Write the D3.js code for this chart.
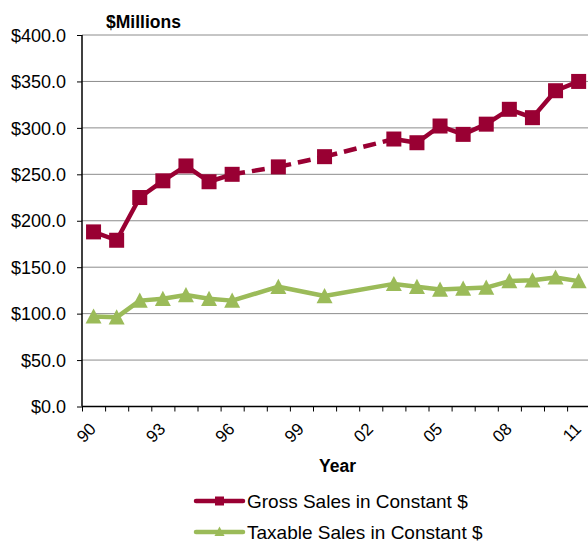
<!DOCTYPE html>
<html>
<head>
<meta charset="utf-8">
<script src="https://cdn.jsdelivr.net/npm/d3@7/dist/d3.min.js"></script>
<style>
  html, body { margin: 0; padding: 0; background: #fff; }
  svg { display: block; font-family: "Liberation Sans", Arial, sans-serif; }
</style>
</head>
<body>
<svg id="chart" width="588" height="544"></svg>
<script>
// Fiscal years with reported figures (gaps are years without data)
const years = [1990, 1991, 1992, 1993, 1994, 1995, 1996, 1998, 2000,
               2003, 2004, 2005, 2006, 2007, 2008, 2009, 2010, 2011];
const grossSales = [188, 179, 225, 243, 259, 242, 250, 258, 269,
                    288, 284, 302, 293, 304, 320, 311, 340, 350];
const taxableSales = [97, 96, 114, 116, 120, 116, 114, 129, 119,
                      132, 129, 126, 127, 128, 135, 136, 139, 135];
const yTicks = [0, 50, 100, 150, 200, 250, 300, 350, 400];
const xLabelYears = [1990, 1993, 1996, 1999, 2002, 2005, 2008, 2011];
const seriesNames = ["Gross Sales in Constant $", "Taxable Sales in Constant $"];
const seriesColors = ["#990033", "#9BBB59"];

const svg = d3.select("#chart");
const plotLeft = 82, plotTop = 35, plotBottom = 406.5;
const catW = 23.1;
const firstYear = 1990, lastYear = 2011;
const plotRight = plotLeft + catW * (lastYear - firstYear + 1);

// Category axis: boundaries at integer positions, points at category centres
const xb = d3.scaleLinear().domain([firstYear, lastYear + 1]).range([plotLeft, plotRight]);
const xc = yr => xb(yr + 0.5);
const y = d3.scaleLinear().domain([0, 400]).range([plotBottom, plotTop]);

// Gridlines
svg.append("g")
  .selectAll("line")
  .data(yTicks.filter(v => v > 0))
  .join("line")
  .attr("x1", plotLeft).attr("x2", plotRight)
  .attr("y1", d => y(d)).attr("y2", d => y(d))
  .attr("stroke", "#8c8c8c").attr("stroke-width", 1);

// Y axis
const yAxis = svg.append("g")
  .attr("transform", `translate(${plotLeft},0)`)
  .call(d3.axisLeft(y).tickValues(yTicks).tickSize(5).tickPadding(11)
        .tickFormat(d => "$" + d3.format(".1f")(d)));
yAxis.select(".domain").attr("stroke", "#000").attr("stroke-width", 1.5)
  .attr("d", `M0,${plotTop}V${plotBottom}`);
yAxis.selectAll(".tick line").attr("stroke", "#000").attr("stroke-width", 1);
yAxis.selectAll(".tick text").attr("font-size", 18).attr("fill", "#000")
  .attr("font-family", "Liberation Sans, Arial, sans-serif").attr("dy", "0.34em");

// X axis (tick marks at category boundaries)
const boundaries = d3.range(firstYear, lastYear + 2);
const xAxis = svg.append("g")
  .attr("transform", `translate(0,${plotBottom})`)
  .call(d3.axisBottom(xb).tickValues(boundaries).tickSize(5).tickFormat(""));
xAxis.select(".domain").attr("stroke", "#000").attr("stroke-width", 1.5)
  .attr("d", `M${plotLeft},0H${plotRight}`);
xAxis.selectAll(".tick line").attr("stroke", "#000").attr("stroke-width", 1);

// Rotated year labels
svg.append("g")
  .selectAll("text")
  .data(xLabelYears)
  .join("text")
  .attr("transform", d => `translate(${xc(d) + 3.5},430) rotate(-45)`)
  .attr("text-anchor", "end")
  .attr("font-size", 17)
  .attr("fill", "#000")
  .text(d => String(d % 100).padStart(2, "0"));

// Titles
svg.append("text").attr("x", 106).attr("y", 27.5)
  .attr("font-size", 17.5).attr("font-weight", "bold").text("$Millions");
svg.append("text").attr("x", 337.5).attr("y", 471.5).attr("text-anchor", "middle")
  .attr("font-size", 17.5).attr("font-weight", "bold").text("Year");

// Series data
const grossData = years.map((yr, i) => ({ yr, v: grossSales[i] }));
const taxData = years.map((yr, i) => ({ yr, v: taxableSales[i] }));

const line = d3.line().x(d => xc(d.yr)).y(d => y(d.v));

// Gross sales: solid between consecutive years, dashed across missing years
const grossSegs = d3.pairs(grossData);
svg.append("g")
  .selectAll("path")
  .data(grossSegs)
  .join("path")
  .attr("d", d => line(d))
  .attr("fill", "none")
  .attr("stroke", seriesColors[0])
  .attr("stroke-width", 4.5)
  .attr("stroke-linecap", d => d[1].yr - d[0].yr > 1 ? "butt" : "round")
  .attr("stroke-dasharray", d => d[1].yr - d[0].yr > 1 ? "13,7" : null);

// Taxable sales: continuous line
svg.append("path")
  .datum(taxData)
  .attr("d", line)
  .attr("fill", "none")
  .attr("stroke", seriesColors[1])
  .attr("stroke-width", 4.5)
  .attr("stroke-linejoin", "round");

// Markers
const sq = 15;
svg.append("g")
  .selectAll("rect")
  .data(grossData)
  .join("rect")
  .attr("x", d => xc(d.yr) - sq / 2)
  .attr("y", d => y(d.v) - sq / 2)
  .attr("width", sq).attr("height", sq)
  .attr("fill", seriesColors[0]);

const tri = s => `M0,${-s}L${s},${s * 0.9}L${-s},${s * 0.9}Z`;
svg.append("g")
  .selectAll("path")
  .data(taxData)
  .join("path")
  .attr("transform", d => `translate(${xc(d.yr)},${y(d.v)})`)
  .attr("d", tri(8))
  .attr("fill", seriesColors[1]);

// Legend
const legend = svg.append("g");
const legendY = [501, 532];
seriesNames.forEach((name, i) => {
  const g = legend.append("g").attr("transform", `translate(0,${legendY[i]})`);
  g.append("line").attr("x1", 196).attr("x2", 243).attr("y1", 0).attr("y2", 0)
    .attr("stroke", seriesColors[i]).attr("stroke-width", 4.5)
    .attr("stroke-linecap", "round");
  if (i === 0) {
    g.append("rect").attr("x", 215).attr("y", -4.5).attr("width", 9).attr("height", 9)
      .attr("fill", seriesColors[i]);
  } else {
    g.append("path").attr("transform", "translate(219.5,-0.5)").attr("d", tri(5))
      .attr("fill", seriesColors[i]);
  }
  g.append("text").attr("x", 247).attr("y", 7).attr("font-size", 19)
    .attr("fill", "#000").text(name);
});
</script>
</body>
</html>
